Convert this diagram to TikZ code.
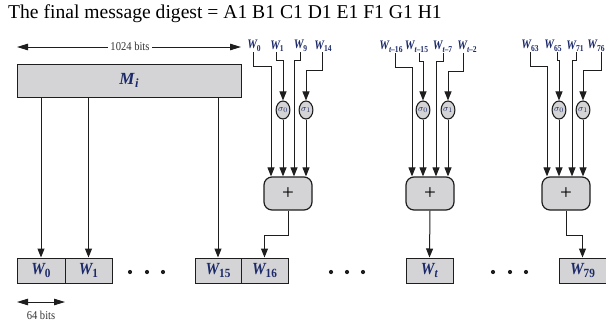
\documentclass[tikz,border=0pt]{standalone}
\usepackage{graphicx}
\usepackage{fontspec}
\setmainfont{Liberation Serif}
\usetikzlibrary{arrows.meta,shapes.geometric}
\definecolor{boxgray}{RGB}{212,212,214}
\definecolor{labelblue}{RGB}{28,42,105}
\definecolor{linegray}{RGB}{30,30,30}

% W with a subscript, at the two sizes used in the figure (narrow set)
\newcommand{\Wtop}[1]{\scalebox{0.84}[1]{{\fontsize{13}{13}\selectfont\bfseries\itshape W}\raisebox{-2.5pt}{\fontsize{9}{9}\selectfont\bfseries #1}}}
\newcommand{\Wbot}[1]{\scalebox{0.9}[1]{{\fontsize{17}{17}\selectfont\bfseries\itshape W}\raisebox{-3.5pt}{\fontsize{12.5}{12.5}\selectfont\bfseries #1}}}
\newcommand{\tsub}[1]{\textit{t}\kern-0.3pt–#1}

\begin{document}
\begin{tikzpicture}[x=1pt,y=-1pt,
  wire/.style={draw=linegray,line width=1pt},
  arr/.style={wire,-{Triangle[width=7pt,length=9pt]}},
  dbl/.style={wire,{Triangle[width=6.5pt,length=11pt]}-{Triangle[width=6.5pt,length=11pt]}},
  wbox/.style={draw=linegray,line width=1pt,fill=boxgray,minimum height=25pt,
    minimum width=47pt,inner sep=0pt,text=labelblue},
  mbox/.style={draw=linegray,line width=1pt,fill=boxgray,minimum height=33pt,
    minimum width=224pt,inner sep=0pt,text=labelblue},
  addbox/.style={draw=linegray,line width=1.2pt,fill=boxgray,rounded corners=8pt,
    minimum width=48pt,minimum height=33pt,inner sep=0pt,
    font=\fontsize{21}{21}\selectfont},
  sig/.style={ellipse,draw=linegray,line width=1.1pt,fill=boxgray,inner sep=0pt,
    minimum width=13pt,minimum height=18pt,font=\fontsize{9.5}{9.5}\selectfont,text=labelblue},
  wlab/.style={inner sep=0.5pt,text=labelblue},
  bits/.style={inner sep=2pt,fill=white,font=\fontsize{12}{12}\selectfont,text=black!80}
]
\useasboundingbox (0,0) rectangle (606,322);

% heading
\node[anchor=base west,inner sep=0pt,font=\fontsize{19.6}{21}\selectfont] (title) at (8,18)
  {The final message digest = A1 B1 C1 D1 E1 F1 G1 H1};

% message block and its width
\coordinate (ml) at (17,47);
\coordinate (mr) at (241,47);
\draw[dbl] (ml) -- (mr);
\node[bits] (kbits) at (130,46.5) {\scalebox{0.88}[1]{1024 bits}};
\node[mbox] (Mi) at (129,80.5) {\fontsize{17}{17}\selectfont\bfseries\itshape M\kern0.5pt\raisebox{-3pt}{\fontsize{12.5}{12.5}\selectfont i}};

% message schedule words
\node[wbox,minimum width=48pt] (b0) at (41,270.5) {\Wbot{0}};
\node[wbox] (b1) at (88.5,270.5) {\Wbot{1}};
\node[wbox,minimum width=46pt] (b15) at (218,270.5) {\Wbot{15}};
\node[wbox] (b16) at (264.5,270.5) {\Wbot{16}};
\node[wbox] (bt) at (429.5,270.5) {\Wbot{\textit{t}}};
\node[wbox] (b79) at (582.5,270.5) {\Wbot{79}};

\foreach \x in {130,147,163,331,347,363,493,510,526}
  \fill[linegray] (\x,272) circle (2.1);

\draw[arr] (Mi.south -| b0.north) -- (b0.north);
\draw[arr] (Mi.south -| b1.north) -- (b1.north);
\draw[arr] (Mi.south -| b15.north) -- (b15.north);

% word width
\coordinate (wl) at (17,302);
\coordinate (wr) at (65,302);
\draw[dbl] (wl) -- (wr);
\node[bits,fill=none] (sbits) at (41,315) {\scalebox{0.88}[1]{64 bits}};

% ---- first expansion step: W16 ----
\node[wlab] (a0) at (254,46) {\Wtop{0}};
\node[wlab] (a1) at (277,46) {\Wtop{1}};
\node[wlab] (a9) at (300.5,46) {\Wtop{9}};
\node[wlab] (a14) at (323,46) {\Wtop{14}};
\node[sig] (s0a) at (283,110) {$\sigma_0$};
\node[sig] (s1a) at (306,110) {$\sigma_1$};
\node[addbox] (pa) at (288,193.5) {+};
\coordinate (pa1) at ([xshift=-17pt]pa.north);
\coordinate (pa3) at ([xshift=6pt]pa.north);
\draw[arr] ([xshift=-1pt]a0.south) -- ++(0,14) -| (pa1);
\draw[arr] ([xshift=-1pt]a1.south) -- ++(0,8) -| (s0a.north);
\draw[arr] (a9.south) -- ++(0,8) -| (pa3);
\draw[arr] ([xshift=-1pt]a14.south) -- ++(0,18) -| (s1a.north);
\draw[arr] (s0a.south) -- (s0a.south |- pa.north);
\draw[arr] (s1a.south) -- (s1a.south |- pa.north);
\draw[arr] (pa.south) -- ++(0,25) -| (b16.north);

% ---- general step: Wt ----
\node[wlab] (c16) at (391,47) {\Wtop{\tsub{16}}};
\node[wlab] (c15) at (416.5,47) {\Wtop{\tsub{15}}};
\node[wlab] (c7) at (442.5,47) {\Wtop{\tsub{7}}};
\node[wlab] (c2) at (467,47) {\Wtop{\tsub{2}}};
\node[sig] (s0b) at (423,110) {$\sigma_0$};
\node[sig] (s1b) at (448,110) {$\sigma_1$};
\node[addbox] (pb) at (430,193.5) {+};
\coordinate (pb1) at ([xshift=-18pt]pb.north);
\coordinate (pb3) at ([xshift=6pt]pb.north);
\draw[arr] ([xshift=4pt]c16.south) -- ++(0,14) -| (pb1);
\draw[arr] ([xshift=2.5pt]c15.south) -- ++(0,8) -| (s0b.north);
\draw[arr] ([xshift=0.5pt]c7.south) -- ++(0,8) -| (pb3);
\draw[arr] ([xshift=-4pt]c2.south) -- ++(0,18) -| (s1b.north);
\draw[arr] (s0b.south) -- (s0b.south |- pb.north);
\draw[arr] (s1b.south) -- (s1b.south |- pb.north);
\draw[arr] (pb.south) -- (bt.north);

% ---- last step: W79 ----
\node[wlab] (d63) at (530,46) {\Wtop{63}};
\node[wlab] (d65) at (553,46) {\Wtop{65}};
\node[wlab] (d71) at (575,46) {\Wtop{71}};
\node[wlab] (d76) at (596,46) {\Wtop{76}};
\node[sig] (s0c) at (559,110) {$\sigma_0$};
\node[sig] (s1c) at (583,110) {$\sigma_1$};
\node[addbox] (pc) at (566,193.5) {+};
\coordinate (pc1) at ([xshift=-19pt]pc.north);
\coordinate (pc3) at ([xshift=6pt]pc.north);
\draw[arr] (d63.south) -- ++(0,14) -| (pc1);
\draw[arr] ([xshift=4pt]d65.south) -- ++(0,8) -| (s0c.north);
\draw[arr] ([xshift=1pt]d71.south) -- ++(0,8) -| (pc3);
\draw[arr] ([xshift=5pt]d76.south) -- ++(0,18) -| (s1c.north);
\draw[arr] (s0c.south) -- (s0c.south |- pc.north);
\draw[arr] (s1c.south) -- (s1c.south |- pc.north);
\draw[arr] (pc.south) -- ++(0,25) -| (b79.north);
\end{tikzpicture}
\end{document}
